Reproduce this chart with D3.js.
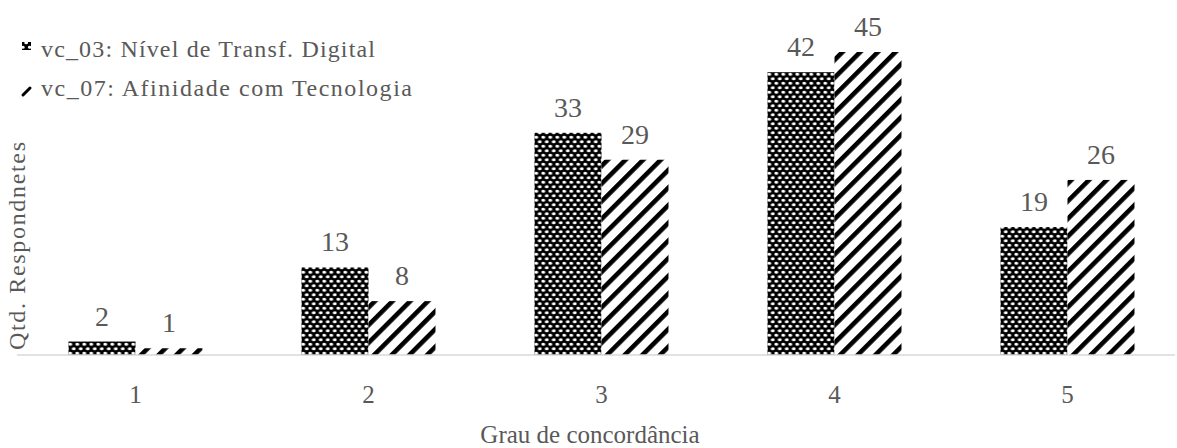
<!DOCTYPE html>
<html>
<head>
<meta charset="utf-8">
<script src="https://cdn.jsdelivr.net/npm/d3@7"></script>
<style>
  html, body { margin: 0; padding: 0; background: #ffffff; }
  svg { display: block; }
  text { font-family: "Liberation Serif", "Times New Roman", serif; fill: #595959; }
</style>
</head>
<body>
<svg id="chart" width="1177" height="448"></svg>
<script>
const categories = ["1", "2", "3", "4", "5"];
const seriesNames = ["vc_03: Nível de Transf. Digital", "vc_07: Afinidade com Tecnologia"];
const vc03 = [2, 13, 33, 42, 19];
const vc07 = [1, 8, 29, 45, 26];
const xTitle = "Grau de concordância";
const yTitle = "Qtd. Respondnetes";

const svg = d3.select("#chart");
const baseY = 355;

const defs = svg.append("defs");
// dotted (dark) pattern
const p1 = defs.append("pattern").attr("id", "dots")
  .attr("patternUnits", "userSpaceOnUse").attr("width", 7).attr("height", 9);
p1.append("rect").attr("width", 7).attr("height", 9).attr("fill", "#000");
p1.append("ellipse").attr("cx", 1.75).attr("cy", 2.25).attr("rx", 2.0).attr("ry", 1.5).attr("fill", "#fff");
p1.append("ellipse").attr("cx", 5.25).attr("cy", 6.75).attr("rx", 2.0).attr("ry", 1.5).attr("fill", "#fff");
// diagonal hatch pattern
const p2 = defs.append("pattern").attr("id", "hatch")
  .attr("patternUnits", "userSpaceOnUse").attr("width", 12.5).attr("height", 12.5)
  .attr("patternTransform", "rotate(45)");
p2.append("rect").attr("width", 12.5).attr("height", 12.5).attr("fill", "#fff");
p2.append("rect").attr("x", 0).attr("y", 0).attr("width", 4.6).attr("height", 12.5).attr("fill", "#000");

const fills = ["url(#dots)", "url(#hatch)"];
const data = categories.map((c, i) => ({ cat: c, values: [vc03[i], vc07[i]] }));

const x0 = d3.scaleBand().domain(categories).range([19, 1184]).paddingInner(0.425).paddingOuter(0.2125);
const x1 = d3.scaleBand().domain([0, 1]).range([0, x0.bandwidth()]).padding(0);
const y = d3.scaleLinear().domain([0, 45]).range([baseY, 52]);

// bars
const g = svg.append("g");
const groups = g.selectAll("g.cat").data(data).join("g")
  .attr("transform", d => `translate(${x0(d.cat)},0)`);
groups.selectAll("rect").data(d => d.values.map((v, k) => ({ v, k }))).join("rect")
  .attr("x", d => x1(d.k))
  .attr("y", d => y(d.v))
  .attr("width", x1.bandwidth())
  .attr("height", d => baseY - y(d.v))
  .attr("fill", d => fills[d.k]);
groups.selectAll("text").data(d => d.values.map((v, k) => ({ v, k }))).join("text")
  .attr("x", d => x1(d.k) + x1.bandwidth() / 2)
  .attr("y", d => y(d.v) - 16)
  .attr("text-anchor", "middle")
  .attr("font-size", 28)
  .text(d => d.v);

// x axis
const xAxis = d3.axisBottom(x0).tickSize(0).tickPadding(0);
const ax = svg.append("g").attr("transform", `translate(0,${baseY})`).call(xAxis);
ax.select(".domain").remove();
ax.selectAll(".tick text")
  .attr("y", 48).attr("dy", null)
  .attr("font-size", 25)
  .style("font-family", "'Liberation Serif', 'Times New Roman', serif")
  .attr("fill", "#595959");
svg.append("line").attr("x1", 17).attr("x2", 1175).attr("y1", baseY).attr("y2", baseY)
  .attr("stroke", "#d9d9d9").attr("stroke-width", 1.5);

// axis titles
svg.append("text").attr("x", 590).attr("y", 443).attr("text-anchor", "middle")
  .attr("font-size", 25).text(xTitle);
svg.append("text").attr("transform", "translate(25,246) rotate(-90)")
  .attr("text-anchor", "middle").attr("font-size", 24)
  .attr("textLength", 208).attr("lengthAdjust", "spacing").text(yTitle);

// legend
const legY = [57, 96];
const legW = [334, 371];
seriesNames.forEach((name, i) => {
  svg.append("text").attr("x", 41).attr("y", legY[i]).attr("font-size", 24)
    .attr("textLength", legW[i]).attr("lengthAdjust", "spacing").text(name);
});
// legend markers
svg.append("rect").attr("x", 22).attr("y", 42).attr("width", 9).attr("height", 8).attr("fill", "url(#dots)");
svg.append("line").attr("x1", 23).attr("y1", 95).attr("x2", 30).attr("y2", 88)
  .attr("stroke", "#000").attr("stroke-width", 3).attr("stroke-linecap", "round");
</script>
</body>
</html>
